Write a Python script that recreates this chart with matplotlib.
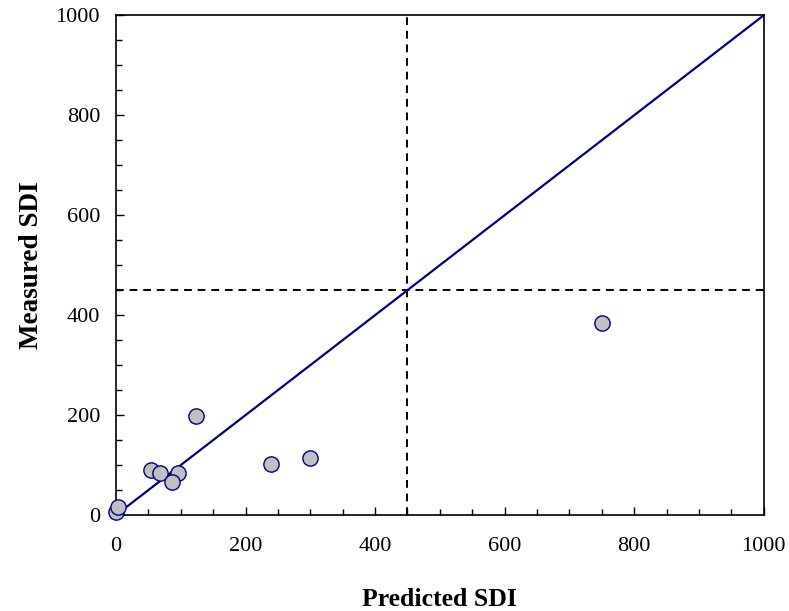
import matplotlib
matplotlib.use("Agg")
import matplotlib.pyplot as plt
from matplotlib.ticker import MultipleLocator

# values
predicted_sdi = [0, 3, 54, 68, 96, 86, 123, 239, 299, 750]
measured_sdi = [6, 16, 90, 84, 84, 67, 199, 103, 115, 384]
threshold = 450
axis_max = 1000

plt.rcParams['font.family'] = ['Liberation Serif', 'DejaVu Serif']

fig = plt.figure(figsize=(7.89, 6.11), dpi=100)
ax = fig.add_axes([0.147, 0.157, 0.821, 0.818])

ax.plot([0, axis_max], [0, axis_max], color="#000080", lw=1.6, zorder=2)
ax.axvline(threshold, color="black", ls=(0, (4, 3)), lw=1.4, zorder=1)
ax.axhline(threshold, color="black", ls=(0, (4, 3)), lw=1.4, zorder=1)
ax.plot(predicted_sdi, measured_sdi, "o", ms=11, mfc="#c0c0c0",
        mec="#000080", mew=1.0, clip_on=False, zorder=3)

ax.set_xlim(0, axis_max)
ax.set_ylim(0, axis_max)
ax.xaxis.set_major_locator(MultipleLocator(200))
ax.xaxis.set_minor_locator(MultipleLocator(50))
ax.yaxis.set_major_locator(MultipleLocator(200))
ax.yaxis.set_minor_locator(MultipleLocator(50))
ax.tick_params(which="both", direction="in", top=False, right=False,
               labelsize=16, width=1.0)
ax.tick_params(which="major", length=6)
ax.tick_params(which="minor", length=4)
ax.tick_params(axis="x", which="major", pad=15.5)
ax.tick_params(axis="y", which="major", pad=11.5)
for side in ax.spines.values():
    side.set_linewidth(1.2)

ax.set_xlabel("Predicted SDI", fontsize=18.5, fontweight="bold", labelpad=23)
ax.set_ylabel("Measured SDI", fontsize=19.5, fontweight="bold", labelpad=8)

fig.savefig("out.png", dpi=100)
